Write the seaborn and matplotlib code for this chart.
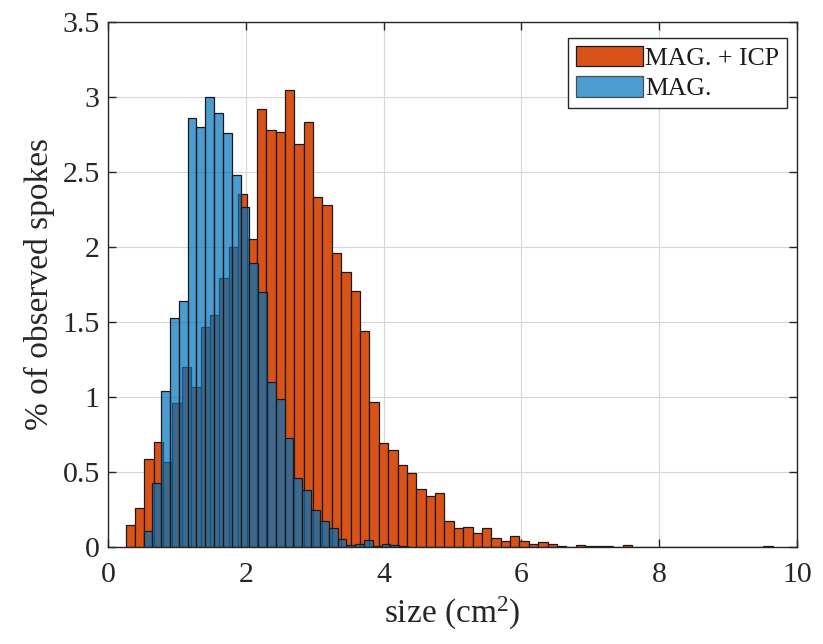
import numpy as np
import pandas as pd
import matplotlib
matplotlib.use("Agg")
import matplotlib.pyplot as plt
from matplotlib.patches import Patch
import seaborn as sns

# ---- data (percent of observed spokes per bin) ----
icp_label = "MAG. + ICP"
mag_label = "MAG."

icp_start, icp_width = 0.255, 0.1361
icp_values = [0.145, 0.262, 0.584, 0.70, 0.565, 0.958, 1.20, 1.065, 1.47, 1.547,
              1.794, 2.00, 2.354, 2.055, 2.92, 2.78, 2.77, 3.047, 2.684, 2.836,
              2.333, 2.28, 1.96, 1.831, 1.704, 1.44, 0.967, 0.691, 0.65, 0.547,
              0.49, 0.385, 0.342, 0.362, 0.17, 0.125, 0.135, 0.093, 0.128, 0.062,
              0.04, 0.073, 0.04, 0.02, 0.032, 0.02, 0.005, 0.0, 0.016, 0.005,
              0.005, 0.005, 0.0, 0.016, 0.0, 0.0, 0.0, 0.0, 0.0, 0.0,
              0.0, 0.0, 0.0, 0.0, 0.0, 0.0, 0.0, 0.0, 0.005]

mag_start, mag_width = 0.516, 0.128
mag_values = [0.107, 0.425, 1.04, 1.53, 1.64, 2.86, 2.80, 3.00, 2.89, 2.757,
              2.48, 2.265, 1.89, 1.70, 1.10, 0.984, 0.724, 0.46, 0.383, 0.245,
              0.17, 0.13, 0.055, 0.015, 0.022, 0.047, 0.007, 0.02, 0.015, 0.005]

xticks = [0, 2, 4, 6, 8, 10]
yticks = [0, 0.5, 1, 1.5, 2, 2.5, 3, 3.5]
ytick_labels = ["0", "0.5", "1", "1.5", "2", "2.5", "3", "3.5"]
xlabel = "size (cm$^{2}$)"
ylabel = "% of observed spokes"

# ---- style ----
sns.set_theme(style="white")
plt.rcParams["font.family"] = ["Liberation Serif", "DejaVu Serif"]
plt.rcParams["mathtext.fontset"] = "custom"
plt.rcParams["mathtext.rm"] = "Liberation Serif"
plt.rcParams["mathtext.default"] = "regular"

orange = "#D95319"
blue = "#0072BD"
edge = "#1a1a1a"

fig = plt.figure(figsize=(8.23, 6.44), dpi=100)
ax = fig.add_axes([108 / 823, 97 / 644, 689 / 823, 525 / 644])

def make_df(start, width, values):
    edges = [start + width * i for i in range(len(values) + 1)]
    centers = [(edges[i] + edges[i + 1]) / 2 for i in range(len(values))]
    return pd.DataFrame({"size": centers, "pct": values}), edges

icp_df, icp_edges = make_df(icp_start, icp_width, icp_values)
mag_df, mag_edges = make_df(mag_start, mag_width, mag_values)

sns.histplot(data=icp_df, x="size", weights="pct", bins=icp_edges, stat="count",
             color=orange, alpha=1.0, edgecolor=edge, linewidth=0.9, ax=ax)
sns.histplot(data=mag_df, x="size", weights="pct", bins=mag_edges, stat="count",
             color=blue, alpha=0.7, edgecolor=edge, linewidth=0.9, ax=ax)

ax.set_xlim(0, 10)
ax.set_ylim(0, 3.5)
ax.set_xticks(xticks)
ax.set_xticklabels([str(t) for t in xticks])
ax.set_yticks(yticks)
ax.set_yticklabels(ytick_labels)
ax.tick_params(axis="both", which="both", direction="in", length=6, width=1,
               color="#262626", labelsize=21.5, labelcolor="#262626",
               top=True, right=True, bottom=True, left=True)
ax.tick_params(axis="x", pad=11)
ax.tick_params(axis="y", pad=6)
ax.grid(True, color="#d6d6d6", linewidth=0.8)
ax.set_axisbelow(True)
for s in ax.spines.values():
    s.set_visible(True)
    s.set_color("#262626")
    s.set_linewidth(1.0)

ax.set_xlabel(xlabel, fontsize=24, color="#262626", labelpad=5)
ax.set_ylabel(ylabel, fontsize=24, color="#262626", labelpad=5)

handles = [Patch(facecolor=orange, edgecolor=edge, linewidth=0.9, label=icp_label),
           Patch(facecolor=blue, alpha=0.7, edgecolor=edge, linewidth=0.9, label=mag_label)]
leg = ax.legend(handles=handles, loc="upper right",
                bbox_to_anchor=(0.9855, 0.9695), borderaxespad=0,
                fontsize=18.5, frameon=True, fancybox=False, framealpha=1,
                edgecolor="#262626", handlelength=2.6, handleheight=0.85,
                handletextpad=0.1, labelspacing=0.25, borderpad=0.3)
leg.get_frame().set_linewidth(1.0)
for t in leg.get_texts():
    t.set_color("#1a1a1a")

fig.savefig("out.png", dpi=100)
